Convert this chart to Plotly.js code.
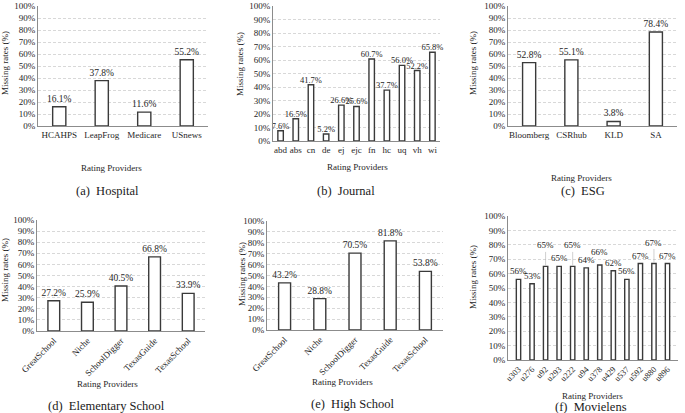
<!DOCTYPE html>
<html>
<head>
<meta charset="utf-8">
<script src="https://cdn.plot.ly/plotly-3.0.1.min.js"></script>
<style>html,body{margin:0;padding:0;background:#fff;}#chart{width:685px;height:413px;}</style>
</head>
<body>
<div id="chart"></div>
<script>
// ---- data ----
const hospitalCats = ["HCAHPS", "LeapFrog", "Medicare", "USnews"];
const hospitalVals = [16.1, 37.8, 11.6, 55.2];

const journalCats = ["abd", "abs", "cn", "de", "ej", "ejc", "fn", "hc", "uq", "vh", "wi"];
const journalVals = [7.6, 16.5, 41.7, 5.2, 26.6, 25.6, 60.7, 37.7, 56.0, 52.2, 65.8];

const esgCats = ["Bloomberg", "CSRhub", "KLD", "SA"];
const esgVals = [52.8, 55.1, 3.8, 78.4];

const elemCats = ["GreatSchool", "Niche", "SchoolDigger", "TexasGuide", "TexasSchool"];
const elemVals = [27.2, 25.9, 40.5, 66.8, 33.9];

const highCats = ["GreatSchool", "Niche", "SchoolDigger", "TexasGuide", "TexasSchool"];
const highVals = [43.2, 28.8, 70.5, 81.8, 53.8];

const movieCats = ["u303", "u276", "u92", "u293", "u222", "u94", "u378", "u429", "u537", "u592", "u880", "u896"];
const movieVals = [56, 53, 65, 65, 65, 64, 66, 62, 56, 67, 67, 67];

const yTickVals = [0, 10, 20, 30, 40, 50, 60, 70, 80, 90, 100];

const captions = ["(a)&nbsp;&nbsp;Hospital", "(b)&nbsp;&nbsp;Journal", "(c)&nbsp;&nbsp;ESG",
                  "(d)&nbsp;&nbsp;Elementary School", "(e)&nbsp;&nbsp;High School", "(f)&nbsp;&nbsp;Movielens"];
const xTitle = "Rating Providers";
const yTitle = "Missing rates (%)";

// ---- styles / positions ----
const W = 685, H = 413;
const FONT = "Liberation Serif";
const TXT = "#262626";
const px = v => v / W;
const py = v => (H - v) / H;

// panel geometry in pixels: [x0, x1, yTop, yBottom]
const panels = [
  {cats: hospitalCats, vals: hospitalVals, box: [38, 208, 6, 126], angle: 0, width: 0.31, tsize: 9.5,
   ytitle: [5, 63], xtitle: [111, 168], cap: [107, 191]},
  {cats: journalCats, vals: journalVals, box: [273, 440, 6, 141], angle: 0, width: 0.36, tsize: 8.5,
   ytitle: [240, 64], xtitle: [357, 167], cap: [346, 191]},
  {cats: esgCats, vals: esgVals, box: [508, 677, 6, 126], angle: 0, width: 0.31, tsize: 9.5,
   ytitle: [473, 63], xtitle: [581, 178], cap: [583, 191]},
  {cats: elemCats, vals: elemVals, box: [37, 205, 220, 331], angle: -45, width: 0.35, tsize: 9.5,
   ytitle: [5, 270], xtitle: [107, 384], cap: [106, 406]},
  {cats: highCats, vals: highVals, box: [267, 443, 221, 330], angle: -45, width: 0.34, tsize: 9.5,
   ytitle: [242, 274], xtitle: [342, 382], cap: [353, 404]},
  {cats: movieCats, vals: movieVals, box: [508, 678, 216, 360], angle: -45, width: 0.32, tsize: 9,
   ytitle: [473, 277], xtitle: [592, 396], cap: [591, 407]}
];
// extra lift (px) for crowded Movielens labels; lifted ones get a leader line
const movieLift = [0, 0, 12, 0, 12, 0, 5, 0, 0, 0, 12, 0];

const data = [];
const layout = {
  width: W, height: H,
  margin: {l: 0, r: 0, t: 0, b: 0},
  paper_bgcolor: "#fff", plot_bgcolor: "#fff",
  showlegend: false,
  font: {family: FONT, color: TXT, size: 9},
  annotations: []
};

panels.forEach((p, i) => {
  const n = i === 0 ? "" : String(i + 1);
  const isMovie = i === 5;
  data.push({
    type: "bar",
    x: p.cats, y: p.vals,
    xaxis: "x" + n, yaxis: "y" + n,
    width: p.width,
    marker: {color: "#ffffff", line: {color: "#3a3a3a", width: 1.4}},
    text: isMovie ? undefined : p.vals.map(v => v.toFixed(1) + "%"),
    textposition: isMovie ? "none" : "outside",
    textfont: {family: FONT, size: p.tsize, color: TXT},
    constraintext: "none",
    cliponaxis: false,
    hoverinfo: "none"
  });
  layout["xaxis" + n] = {
    domain: [px(p.box[0]), px(p.box[1])],
    anchor: "y" + n,
    type: "category",
    showline: true, linecolor: "#8c8c8c", linewidth: 1,
    ticks: "", showgrid: false, zeroline: false,
    tickangle: p.angle,
    automargin: false,
    tickfont: {family: FONT, size: isMovie ? 8.5 : 9, color: TXT},
    fixedrange: true
  };
  layout["yaxis" + n] = {
    domain: [py(p.box[3]), py(p.box[2])],
    anchor: "x" + n,
    range: [0, 100.01],
    tickvals: yTickVals,
    ticktext: yTickVals.map(v => v + "%"),
    showline: true, linecolor: "#8c8c8c", linewidth: 1,
    showgrid: true, gridcolor: "#c8c8c8", gridwidth: 0.7, griddash: "3px,2px",
    zeroline: false, ticks: "",
    automargin: false,
    tickfont: {family: FONT, size: 9, color: TXT},
    fixedrange: true
  };
  layout.annotations.push({
    xref: "paper", yref: "paper", x: px(p.ytitle[0]), y: py(p.ytitle[1]),
    text: yTitle, textangle: -90, showarrow: false,
    xanchor: "center", yanchor: "middle",
    font: {family: FONT, size: 9, color: TXT}
  });
  layout.annotations.push({
    xref: "paper", yref: "paper", x: px(p.xtitle[0]), y: py(p.xtitle[1]),
    text: xTitle, showarrow: false, xanchor: "center", yanchor: "middle",
    font: {family: FONT, size: 9, color: TXT}
  });
  layout.annotations.push({
    xref: "paper", yref: "paper", x: px(p.cap[0]), y: py(p.cap[1]),
    text: captions[i], showarrow: false, xanchor: "center", yanchor: "middle",
    font: {family: FONT, size: 12.5, color: "#1a1a1a"}
  });
});

// Movielens value labels (some lifted with leader lines)
movieCats.forEach((c, k) => {
  const lift = movieLift[k];
  const arrow = lift >= 10;
  layout.annotations.push({
    xref: "x6", yref: "y6", x: c, y: movieVals[k],
    text: movieVals[k] + "%",
    showarrow: arrow,
    arrowhead: 0, arrowwidth: 0.6, arrowcolor: "#b0b0b0",
    ax: 0, ay: arrow ? -(9 + lift) : 0, standoff: 1,
    yanchor: arrow ? "middle" : "bottom",
    yshift: arrow ? 0 : 1 + lift,
    font: {family: FONT, size: 9, color: TXT}
  });
});

Plotly.newPlot("chart", data, layout, {staticPlot: true, displayModeBar: false});
</script>
</body>
</html>
